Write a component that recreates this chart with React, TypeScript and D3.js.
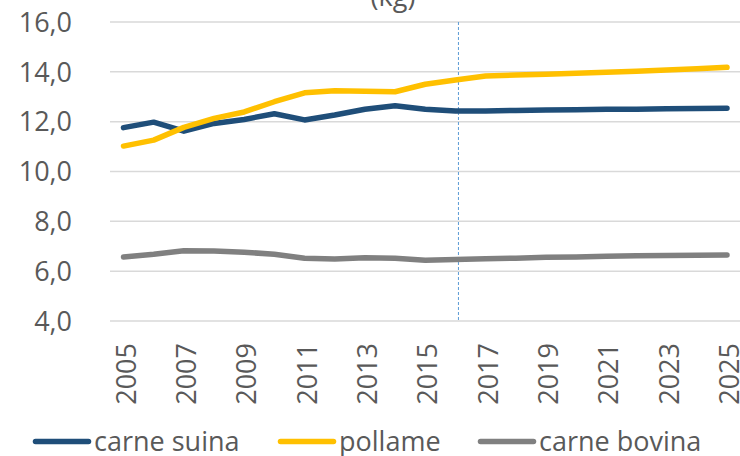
import React from "react";
import * as d3 from "d3";

const years = d3.range(2005, 2026);
const carneSuina = [11.76, 11.98, 11.62, 11.93, 12.09, 12.32, 12.07, 12.27, 12.5, 12.64, 12.5, 12.43, 12.43, 12.45, 12.47, 12.48, 12.5, 12.5, 12.52, 12.53, 12.54];
const pollame = [11.02, 11.26, 11.77, 12.13, 12.39, 12.8, 13.16, 13.24, 13.22, 13.2, 13.5, 13.67, 13.83, 13.87, 13.9, 13.94, 13.98, 14.02, 14.07, 14.12, 14.18];
const carneBovina = [6.57, 6.68, 6.82, 6.81, 6.76, 6.68, 6.52, 6.49, 6.54, 6.52, 6.44, 6.47, 6.5, 6.52, 6.56, 6.57, 6.6, 6.62, 6.63, 6.64, 6.65];
const yTicks = [4, 6, 8, 10, 12, 14, 16];
const xTickYears = [2005, 2007, 2009, 2011, 2013, 2015, 2017, 2019, 2021, 2023, 2025];
const markerYear = 2016.1;
const titleTail = "(kg)";

const series = [
  { name: "carne suina", values: carneSuina, color: "#1F4E79" },
  { name: "pollame", values: pollame, color: "#FFC000" },
  { name: "carne bovina", values: carneBovina, color: "#808080" },
];

const legendX = [33, 278, 478];

export default function App() {
  const W = 740, H = 456;
  const x = d3.scaleLinear().domain([2005, 2025]).range([123.5, 727]);
  const y = d3.scaleLinear().domain([4, 16]).range([321, 22]);
  const line = d3
    .line<number>()
    .x((_, i) => x(years[i]))
    .y((v) => y(v));
  const font = "'Open Sans', Lato, sans-serif";
  const textColor = "#595959";
  return (
    <svg width={W} height={H} style={{ position: "absolute", left: 0, top: 0, background: "#fff" }} fontFamily={font}>
      <text x={393} y={6} textAnchor="middle" fontSize={27} fill={textColor}>{titleTail}</text>
      {yTicks.map((t) => (
        <g key={t}>
          <line x1={110} x2={W} y1={y(t)} y2={y(t)} stroke="#d9d9d9" strokeWidth={1.5} />
          <text x={72} y={y(t)} dy="0.36em" textAnchor="end" fontSize={27} fill={textColor}>
            {t.toFixed(1).replace(".", ",")}
          </text>
        </g>
      ))}
      {xTickYears.map((yr) => (
        <text key={yr} transform={`translate(${x(yr) + 12},343) rotate(-90)`} textAnchor="end" fontSize={27} fill={textColor}>
          {yr}
        </text>
      ))}
      <line x1={x(markerYear)} x2={x(markerYear)} y1={y(16)} y2={y(4)} stroke="#5B9BD5" strokeWidth={1} strokeDasharray="3,2" />
      {series.map((s) => (
        <path key={s.name} d={line(s.values) || ""} fill="none" stroke={s.color} strokeWidth={5.5} strokeLinecap="round" strokeLinejoin="round" />
      ))}
      {series.map((s, i) => (
        <g key={s.name}>
          <line x1={legendX[i] + 2.5} x2={legendX[i] + 55.5} y1={441.5} y2={441.5} stroke={s.color} strokeWidth={5.5} strokeLinecap="round" />
          <text x={legendX[i] + 61} y={451} fontSize={27} fill={textColor}>{s.name}</text>
        </g>
      ))}
    </svg>
  );
}
